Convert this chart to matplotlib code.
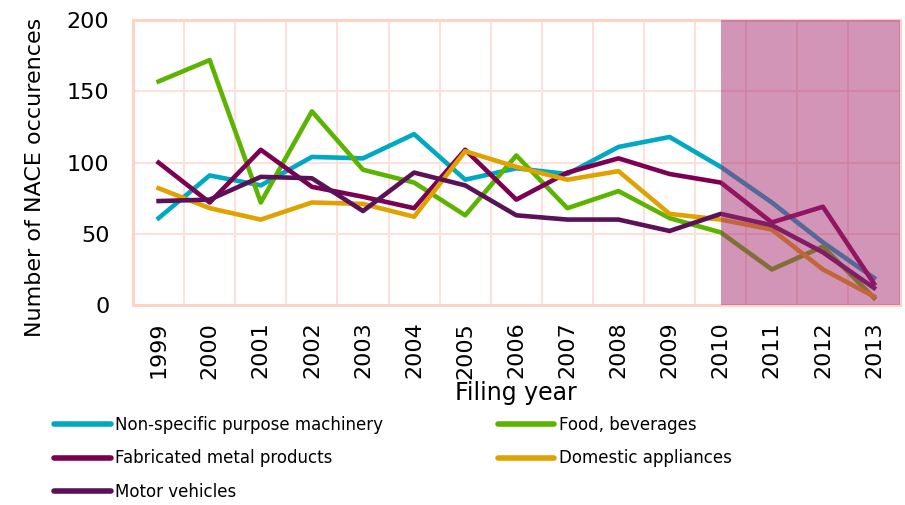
import matplotlib
matplotlib.use('Agg')
import matplotlib.pyplot as plt
from matplotlib.lines import Line2D

# Años de presentación y conteos por sector NACE
anios = list(range(1999, 2014))
maquinaria = [61, 91, 84, 104, 103, 120, 88, 96, 92, 111, 118, 97, 72, 44, 19]
alimentos = [157, 172, 72, 136, 95, 86, 63, 105, 68, 80, 61, 51, 25, 41, 5]
metal = [100, 72, 109, 83, 76, 68, 109, 74, 93, 103, 92, 86, 58, 69, 15]
electrodom = [82, 68, 60, 72, 71, 62, 108, 97, 88, 94, 64, 60, 53, 25, 6]
vehiculos = [73, 74, 90, 89, 66, 93, 84, 63, 60, 60, 52, 64, 56, 37, 12]

series = [
    ('Non-specific purpose machinery', maquinaria, '#00a9c2'),
    ('Food, beverages', alimentos, '#5cb400'),
    ('Fabricated metal products', metal, '#7c0052'),
    ('Domestic appliances', electrodom, '#e0a200'),
    ('Motor vehicles', vehiculos, '#5b1158'),
]

SALMON = '#fcd3c6'

fig = plt.figure(figsize=(9.05, 5.05), dpi=100)
ax = fig.add_axes([0.147, 0.396, 0.847, 0.564])

x = list(range(len(anios)))
handles = {}
for nombre, vals, col in series:
    ax.plot(x, vals, color=col, lw=3.3, zorder=3)
    handles[nombre] = Line2D([], [], color=col, lw=4, solid_capstyle='round')

# Zona sombreada desde 2010 (datos incompletos)
ax.axvspan(11, len(anios) - 0.5, color='#a62a70', alpha=0.5, lw=0, zorder=4)

ax.set_xlim(-0.5, len(anios) - 0.5)
ax.set_ylim(0, 200)
ax.set_yticks([0, 50, 100, 150, 200])
ax.set_xticks(x)
ax.set_xticklabels([str(a) for a in anios], rotation=90)
ax.set_xticks([i + 0.5 for i in x[:-1]], minor=True)

ax.grid(False)
ax.yaxis.grid(True, color='#fde0d6', lw=1.4, zorder=0)
ax.xaxis.grid(True, which='minor', color='#fde0d6', lw=1.4, zorder=0)
ax.set_axisbelow(True)
for s in ax.spines.values():
    s.set_color(SALMON)
    s.set_linewidth(2.2)

ax.tick_params(axis='both', which='both', length=0, labelsize=16)
ax.tick_params(axis='y', pad=17)
ax.tick_params(axis='x', pad=12)

ax.set_ylabel('Number of NACE occurences', fontsize=16)
ax.yaxis.label.set_va('center')
ax.yaxis.set_label_coords(-0.128, 0.449)
ax.set_xlabel('Filing year', fontsize=17, labelpad=2)

kw = dict(frameon=False, fontsize=12, handlelength=3.4, handletextpad=0.25,
          labelspacing=0.95, loc='upper left', borderaxespad=0, borderpad=0)
izq = ['Non-specific purpose machinery', 'Fabricated metal products', 'Motor vehicles']
der = ['Food, beverages', 'Domestic appliances']
fig.legend([handles[n] for n in izq], izq,
           bbox_to_anchor=(0.060, 0.177), **kw)
fig.legend([handles[n] for n in der], der,
           bbox_to_anchor=(0.550, 0.177), **kw)

fig.savefig('out.png', dpi=100)
